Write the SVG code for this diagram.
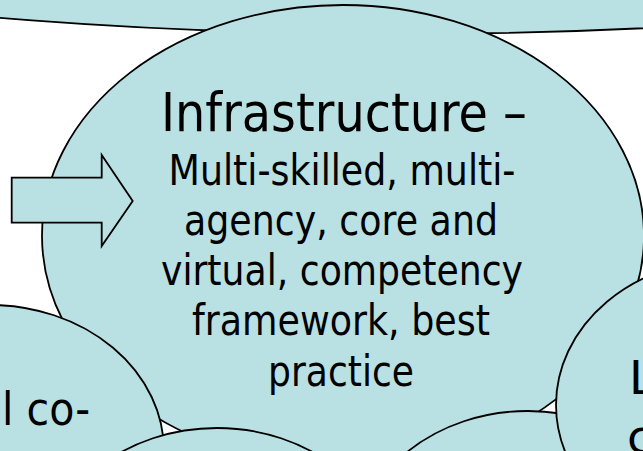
<svg xmlns="http://www.w3.org/2000/svg" width="643" height="451" viewBox="0 0 643 451">
  <style>
    .bubble { fill: #b9e0e3; stroke: #000; stroke-width: 1.8; }
    .label { font-family: "DejaVu Sans", "Liberation Sans", sans-serif; fill: #000; }
    .title { font-size: 53px; }
    .body { font-size: 42px; }
    .side { font-size: 47px; }
  </style>

  <!-- top banner shape, bottom edge only on canvas -->
  <g id="top-banner">
    <ellipse class="bubble" cx="400" cy="-159" rx="1000" ry="193"/>
  </g>

  <!-- central infrastructure bubble -->
  <g id="infrastructure">
    <ellipse class="bubble" cx="343" cy="236" rx="301" ry="231"/>
    <g class="label" text-anchor="middle">
      <text class="title" x="344" y="131" textLength="366" lengthAdjust="spacingAndGlyphs">Infrastructure –</text>
      <text class="body" x="342" y="185" textLength="347" lengthAdjust="spacingAndGlyphs">Multi-skilled, multi-</text>
      <text class="body" x="341" y="235" textLength="314" lengthAdjust="spacingAndGlyphs">agency, core and</text>
      <text class="body" x="342" y="285" textLength="362" lengthAdjust="spacingAndGlyphs">virtual, competency</text>
      <text class="body" x="341" y="335" textLength="298" lengthAdjust="spacingAndGlyphs">framework, best</text>
      <text class="body" x="341" y="386" textLength="146" lengthAdjust="spacingAndGlyphs">practice</text>
    </g>
  </g>

  <!-- connector: block arrow pointing into the central bubble -->
  <g id="connectors">
    <path class="bubble" d="M11.7,177.7 H101.7 V155 L132.7,201 L101.7,246 V222.7 H11.7 Z"/>
  </g>

  <!-- lower-left bubble -->
  <g id="bubble-left">
    <ellipse class="bubble" cx="-10" cy="451" rx="174" ry="146"/>
    <text class="label side" x="2" y="425" textLength="88" lengthAdjust="spacingAndGlyphs">l co-</text>
  </g>

  <!-- bottom bubbles -->
  <g id="bubble-bottom-left">
    <ellipse class="bubble" cx="217" cy="574" rx="174" ry="146"/>
  </g>
  <g id="bubble-bottom-right">
    <ellipse class="bubble" cx="528" cy="557" rx="174" ry="146"/>
  </g>

  <!-- right bubble -->
  <g id="bubble-right">
    <ellipse class="bubble" cx="730" cy="405" rx="174" ry="146"/>
    <g class="label side">
      <text x="629" y="394">L</text>
      <text x="627" y="453">c</text>
    </g>
  </g>
</svg>
